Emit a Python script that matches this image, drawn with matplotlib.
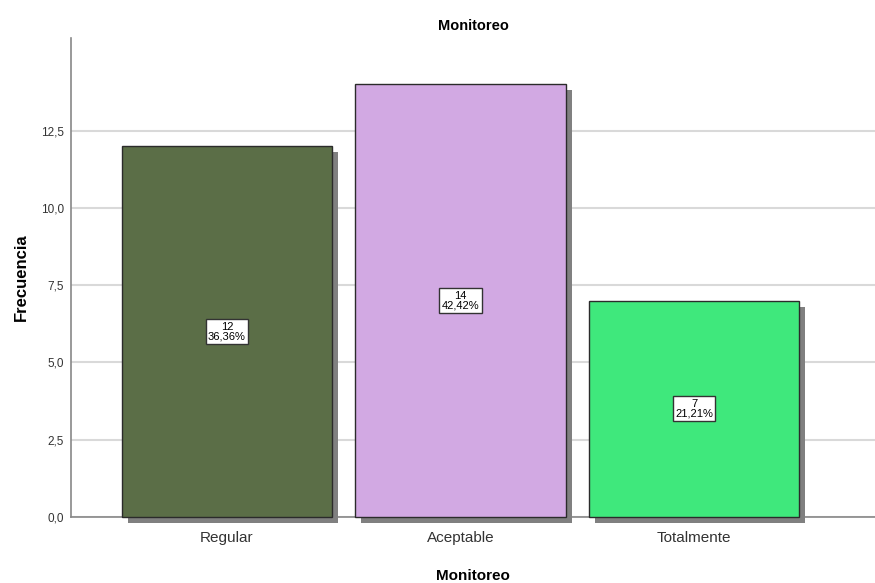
import matplotlib
matplotlib.use("Agg")
import matplotlib.pyplot as plt
import matplotlib.patheffects as pe
from matplotlib.ticker import FuncFormatter

categories = ["Regular", "Aceptable", "Totalmente"]
counts = [12, 14, 7]
percents = ["36,36%", "42,42%", "21,21%"]
colors = ["#5B6E47", "#D2A9E3", "#3FE87C"]
yticks = [0, 2.5, 5.0, 7.5, 10.0, 12.5]

plt.rcParams["font.family"] = ["Liberation Sans", "DejaVu Sans"]

fig = plt.figure(figsize=(8.75, 5.83), dpi=100)
ax = fig.add_axes([0.0811, 0.1132, 0.9189, 0.8216])

x = list(range(len(categories)))
bars = ax.bar(x, counts, width=0.9, color=colors, edgecolor="#2b2b2b",
              linewidth=1.0, zorder=3)
for b in bars:
    b.set_clip_on(False)
    b.set_path_effects([
        pe.SimplePatchShadow(offset=(4.3, -4.3), shadow_rgbFace="#808080", alpha=1.0),
        pe.Normal(),
    ])

for xi, c, p in zip(x, counts, percents):
    ax.text(xi, c / 2, f"{c}\n{p}", ha="center", va="center", fontsize=8,
            linespacing=1.0, zorder=5,
            bbox=dict(boxstyle="square,pad=0.22", facecolor="white",
                      edgecolor="#333333", linewidth=1.0))

ax.set_xlim(-0.668, 2.775)
ax.set_ylim(0, 15.5)
ax.set_yticks(yticks)
ax.yaxis.set_major_formatter(FuncFormatter(lambda v, _: f"{v:.1f}".replace(".", ",")))
ax.set_xticks(x)
ax.set_xticklabels(categories, fontsize=11, color="#333333")
ax.tick_params(axis="y", labelsize=8.5, colors="#333333", length=0, pad=5)
ax.tick_params(axis="x", length=0, pad=10)
ax.yaxis.grid(True, color="#D9D9D9", linewidth=1.5, zorder=0)
ax.set_axisbelow(True)

for s in ["top", "right"]:
    ax.spines[s].set_visible(False)
ax.spines["left"].set_color("#888888")
ax.spines["bottom"].set_color("#888888")
ax.spines["left"].set_linewidth(1.2)
ax.spines["bottom"].set_linewidth(1.2)

ax.set_title("Monitoreo", fontsize=10.5, fontweight="bold", pad=6)
ax.set_xlabel("Monitoreo", fontsize=11, fontweight="bold", labelpad=17)
ax.set_ylabel("Frecuencia", fontsize=12, fontweight="bold", labelpad=9)

fig.savefig("out.png", dpi=100)
